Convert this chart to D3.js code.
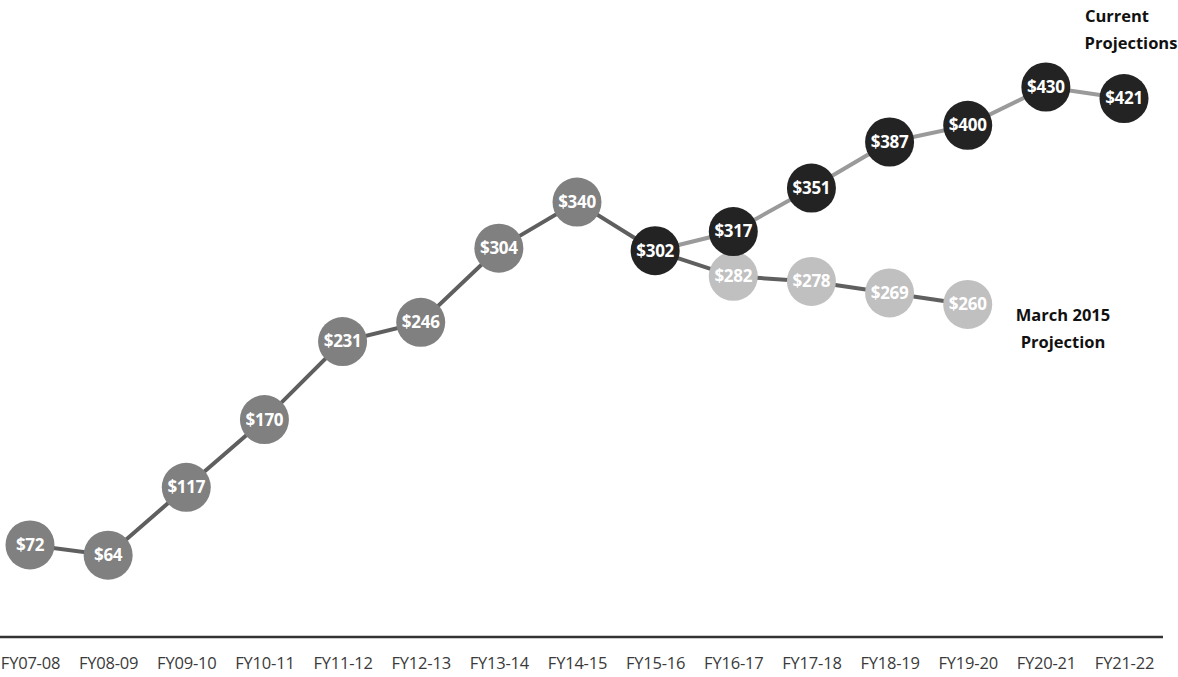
<!DOCTYPE html>
<html>
<head>
<meta charset="utf-8">
<script src="https://cdn.jsdelivr.net/npm/d3@7"></script>
<style>
  html, body { margin: 0; padding: 0; background: #fff; }
  svg { display: block; }
  text { font-family: "Open Sans", "DejaVu Sans", sans-serif; }
</style>
</head>
<body>
<svg id="chart" width="1178" height="677"></svg>
<script>
// Fiscal years on the x axis
const years = ["FY07-08","FY08-09","FY09-10","FY10-11","FY11-12","FY12-13","FY13-14","FY14-15",
               "FY15-16","FY16-17","FY17-18","FY18-19","FY19-20","FY20-21","FY21-22"];
// Actuals through FY14-15
const actualYears = ["FY07-08","FY08-09","FY09-10","FY10-11","FY11-12","FY12-13","FY13-14","FY14-15"];
const actualValues = [72, 64, 117, 170, 231, 246, 304, 340];
// Current projections (from FY15-16 on)
const currentYears = ["FY15-16","FY16-17","FY17-18","FY18-19","FY19-20","FY20-21","FY21-22"];
const currentValues = [302, 317, 351, 387, 400, 430, 421];
// March 2015 projection branch
const marchYears = ["FY15-16","FY16-17","FY17-18","FY18-19","FY19-20"];
const marchValues = [302, 282, 278, 269, 260];

const svg = d3.select("#chart");
const x = d3.scalePoint().domain(years).range([30, 1124]);
const y = d3.scaleLinear().domain([0, 430]).range([637, 87]);

const zip = (ks, vs) => ks.map((k, i) => ({ k, v: vs[i] }));
const actual = zip(actualYears, actualValues);
const current = zip(currentYears, currentValues);
const march = zip(marchYears, marchValues);

const line = d3.line().x(d => x(d.k)).y(d => y(d.v));

// x axis line and labels
const axis = d3.axisBottom(x).tickSize(0).tickPadding(20);
const gAxis = svg.append("g").attr("transform", "translate(0,637)").call(axis);
gAxis.attr("font-size", null).attr("font-family", null);
gAxis.select(".domain").remove();
gAxis.selectAll("text").style("font-size", "16.5px").attr("fill", "#3a3a3a")
  .attr("letter-spacing", -0.2);
svg.append("line").attr("x1", 0).attr("x2", 1163).attr("y1", 637).attr("y2", 637)
  .attr("stroke", "#333").attr("stroke-width", 2.5);

// connecting lines
svg.append("path").datum(actual.concat([current[0]]))
  .attr("d", line).attr("fill", "none").attr("stroke", "#5f5f5f").attr("stroke-width", 4);
svg.append("path").datum(march)
  .attr("d", line).attr("fill", "none").attr("stroke", "#5f5f5f").attr("stroke-width", 4);
svg.append("path").datum(current)
  .attr("d", line).attr("fill", "none").attr("stroke", "#9a9a9a").attr("stroke-width", 4);

function dots(data, fill) {
  const g = svg.append("g");
  const n = g.selectAll("g").data(data).join("g")
    .attr("transform", d => `translate(${x(d.k)},${y(d.v)})`);
  n.append("circle").attr("r", 24.5).attr("fill", fill);
  n.append("text").text(d => "$" + d.v)
    .attr("text-anchor", "middle").attr("dy", "0.35em")
    .attr("fill", "#fff").style("font-size", "17px").attr("font-weight", "bold")
    .attr("letter-spacing", -0.3);
}
dots(actual, "#808080");
dots(march.slice(1), "#c0c0c0");
dots(current, "#232323");

// series labels
function label(t, cx, yy) {
  svg.append("text").text(t).attr("x", cx).attr("y", yy)
    .attr("text-anchor", "middle").style("font-size", "16.5px").attr("font-weight", "bold")
    .attr("fill", "#111");
}
label("Current", 1117, 22);
label("Projections", 1131, 49);
label("March 2015", 1063, 321);
label("Projection", 1063, 348);
</script>
</body>
</html>
